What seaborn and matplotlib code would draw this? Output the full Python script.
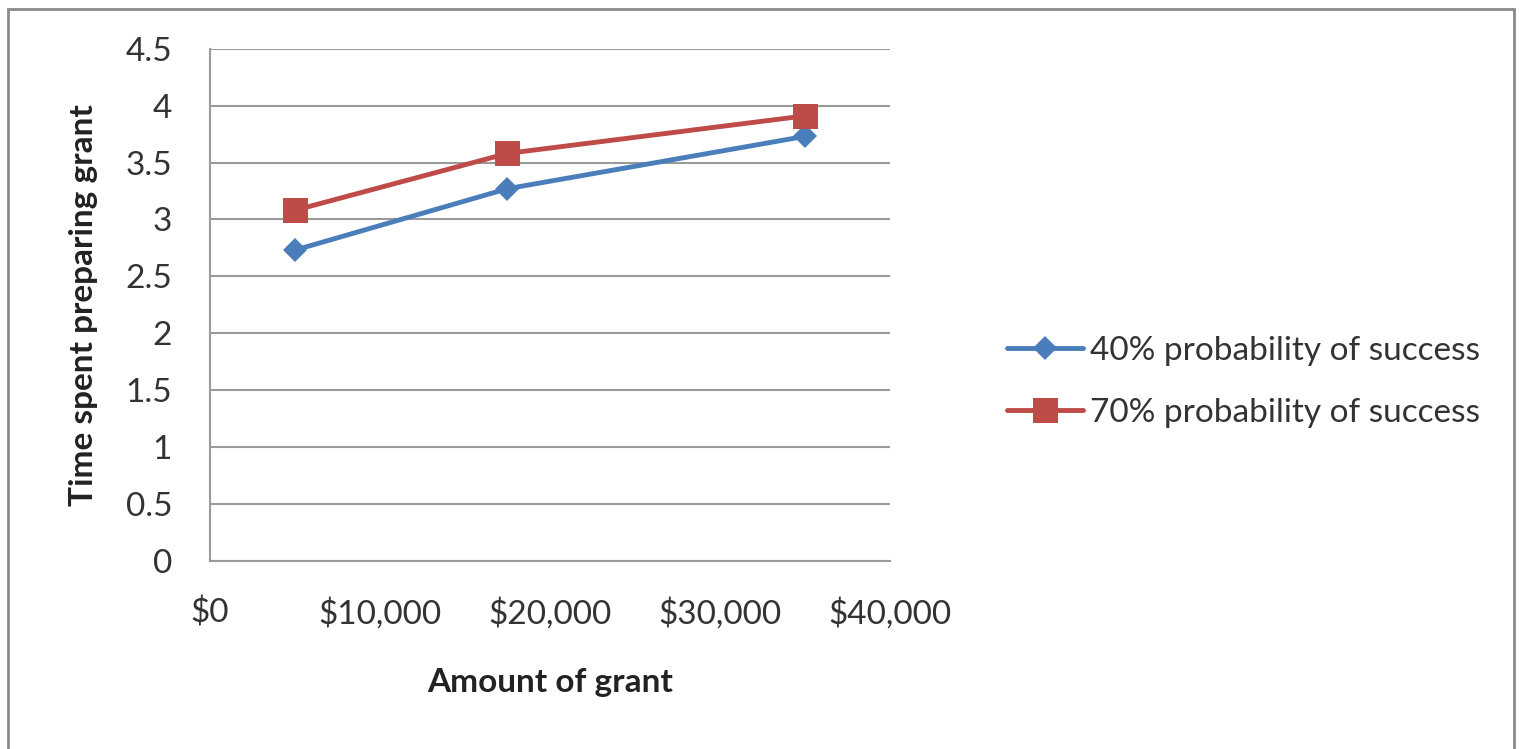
import matplotlib
matplotlib.use("Agg")
import matplotlib.pyplot as plt
import matplotlib.patches as mpatches
from matplotlib.ticker import FuncFormatter
import pandas as pd
import seaborn as sns

grant_amounts = [5000, 17500, 35000]
time_40 = [2.73, 3.27, 3.73]
time_70 = [3.08, 3.58, 3.91]
series_names = ["40% probability of success", "70% probability of success"]
y_ticks = [0, 0.5, 1, 1.5, 2, 2.5, 3, 3.5, 4, 4.5]
x_ticks = [0, 10000, 20000, 30000, 40000]

df = pd.DataFrame({
    "Amount": grant_amounts * 2,
    "Time": time_40 + time_70,
    "Series": [series_names[0]] * 3 + [series_names[1]] * 3,
})

sns.set_theme(style="white")
plt.rcParams["font.family"] = ["Lato", "DejaVu Sans"]

fig = plt.figure(figsize=(15.19, 7.49), dpi=100)
ax = fig.add_axes([0.138, 0.251, 0.448, 0.684])

palette = {series_names[0]: "#4A7EBB", series_names[1]: "#BE4B48"}
markers = {series_names[0]: "D", series_names[1]: "s"}
sizes = {series_names[0]: 12, series_names[1]: 18}

for name in series_names:
    sub = df[df["Series"] == name]
    sns.lineplot(data=sub, x="Amount", y="Time", ax=ax, color=palette[name],
                 marker=markers[name], markersize=sizes[name], linewidth=3.5,
                 markeredgewidth=0, label=name, zorder=3)

ax.set_xlim(0, 40000)
ax.set_ylim(0, 4.5)
ax.set_yticks(y_ticks)
ax.set_yticklabels([f"{v:g}" for v in y_ticks])
ax.set_xticks(x_ticks)
ax.xaxis.set_major_formatter(FuncFormatter(lambda v, p: f"${v:,.0f}"))
ax.grid(axis="y", color="#9a9a9a", linewidth=1.5)
ax.grid(axis="x", visible=False)
for side in ["top", "right"]:
    ax.spines[side].set_visible(False)
for side in ["left", "bottom"]:
    ax.spines[side].set_color("#9a9a9a")
    ax.spines[side].set_linewidth(1.5)
ax.tick_params(axis="both", labelsize=24, colors="#333333", length=0)
ax.tick_params(axis="y", pad=27)
ax.tick_params(axis="x", pad=26)

ax.set_xlabel("Amount of grant", fontsize=24, fontweight="bold", labelpad=28, color="#222222")
ax.set_ylabel("Time spent preparing grant", fontsize=24, fontweight="bold", labelpad=20, color="#222222")

leg = ax.legend(loc="center left", bbox_to_anchor=(0.643, 0.49), bbox_transform=fig.transFigure,
                frameon=False, fontsize=24, handlelength=2.3, handletextpad=0.2, labelspacing=0.95)
for t in leg.get_texts():
    t.set_color("#333333")

fig.patches.append(mpatches.Rectangle((0.005, -0.02), 0.992, 1.008, transform=fig.transFigure,
                                      fill=False, edgecolor="#8a8a8a", linewidth=2))

fig.savefig("out.png", dpi=100, facecolor="white")
